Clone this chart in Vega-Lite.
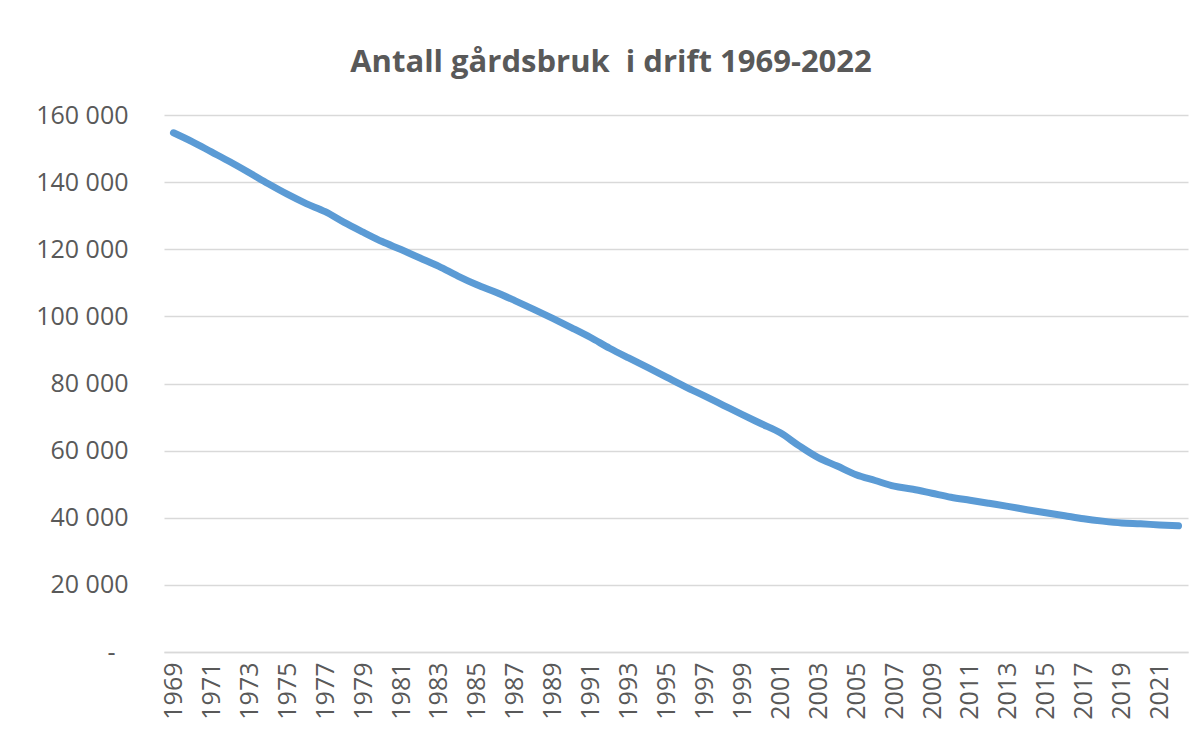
{
  "$schema": "https://vega.github.io/schema/vega-lite/v6.json",
  "autosize": {"type": "none"},
  "width": 1024,
  "height": 537,
  "padding": {"left": 164, "top": 115, "right": 15, "bottom": 84},
  "background": "white",
  "title": {
    "text": "Antall gårdsbruk\u00a0 i drift 1969-2022",
    "font": "Open Sans",
    "fontSize": 31,
    "fontWeight": "bold",
    "color": "#595959",
    "anchor": "middle",
    "frame": "group",
    "dx": -65,
    "dy": 0,
    "baseline": "alphabetic",
    "offset": 0
  },
  "data": {
    "values": [
      {"year": 1969, "farms": 154700},
      {"year": 1970, "farms": 152000},
      {"year": 1971, "farms": 149000},
      {"year": 1972, "farms": 146000},
      {"year": 1973, "farms": 142800},
      {"year": 1974, "farms": 139500},
      {"year": 1975, "farms": 136400},
      {"year": 1976, "farms": 133600},
      {"year": 1977, "farms": 131200},
      {"year": 1978, "farms": 128000},
      {"year": 1979, "farms": 125100},
      {"year": 1980, "farms": 122300},
      {"year": 1981, "farms": 119900},
      {"year": 1982, "farms": 117400},
      {"year": 1983, "farms": 114900},
      {"year": 1984, "farms": 112000},
      {"year": 1985, "farms": 109400},
      {"year": 1986, "farms": 107200},
      {"year": 1987, "farms": 104700},
      {"year": 1988, "farms": 102100},
      {"year": 1989, "farms": 99400},
      {"year": 1990, "farms": 96600},
      {"year": 1991, "farms": 93700},
      {"year": 1992, "farms": 90500},
      {"year": 1993, "farms": 87600},
      {"year": 1994, "farms": 84800},
      {"year": 1995, "farms": 81900},
      {"year": 1996, "farms": 79000},
      {"year": 1997, "farms": 76300},
      {"year": 1998, "farms": 73500},
      {"year": 1999, "farms": 70700},
      {"year": 2000, "farms": 68000},
      {"year": 2001, "farms": 65300},
      {"year": 2002, "farms": 61400},
      {"year": 2003, "farms": 57900},
      {"year": 2004, "farms": 55400},
      {"year": 2005, "farms": 52800},
      {"year": 2006, "farms": 51100},
      {"year": 2007, "farms": 49400},
      {"year": 2008, "farms": 48500},
      {"year": 2009, "farms": 47300},
      {"year": 2010, "farms": 46100},
      {"year": 2011, "farms": 45200},
      {"year": 2012, "farms": 44300},
      {"year": 2013, "farms": 43400},
      {"year": 2014, "farms": 42400},
      {"year": 2015, "farms": 41500},
      {"year": 2016, "farms": 40600},
      {"year": 2017, "farms": 39700},
      {"year": 2018, "farms": 39000},
      {"year": 2019, "farms": 38450},
      {"year": 2020, "farms": 38200},
      {"year": 2021, "farms": 37850},
      {"year": 2022, "farms": 37600}
    ]
  },
  "mark": {
    "type": "line",
    "color": "#5B9BD5",
    "strokeWidth": 7,
    "strokeCap": "round",
    "strokeJoin": "round",
    "interpolate": "monotone"
  },
  "encoding": {
    "x": {
      "field": "year",
      "type": "ordinal",
      "scale": {"type": "point", "padding": 0.5},
      "axis": {
        "title": null,
        "labelAngle": -90,
        "labelAlign": "right",
        "labelBaseline": "middle",
        "labelPadding": 10,
        "labelFont": "Open Sans",
        "labelFontSize": 25,
        "labelColor": "#595959",
        "labelExpr": "datum.value % 2 == 1 ? datum.label : ''",
        "ticks": false,
        "domain": true,
        "domainColor": "#d9d9d9",
        "domainWidth": 1.5,
        "grid": false,
        "labelOverlap": false
      }
    },
    "y": {
      "field": "farms",
      "type": "quantitative",
      "scale": {"domain": [0, 160000], "nice": false},
      "axis": {
        "title": null,
        "values": [0, 20000, 40000, 60000, 80000, 100000, 120000, 140000, 160000],
        "labelExpr": "datum.value == 0 ? '-' : replace(format(datum.value, ','), ',', ' ')",
        "labelFont": "Open Sans",
        "labelFontSize": 25,
        "labelColor": "#595959",
        "labelPadding": {"condition": {"test": "datum.value == 0", "value": 49}, "value": 36},
        "ticks": false,
        "domain": false,
        "grid": true,
        "gridColor": "#d9d9d9",
        "gridWidth": 1.5
      }
    }
  },
  "config": {
    "view": {"stroke": null}
  }
}
